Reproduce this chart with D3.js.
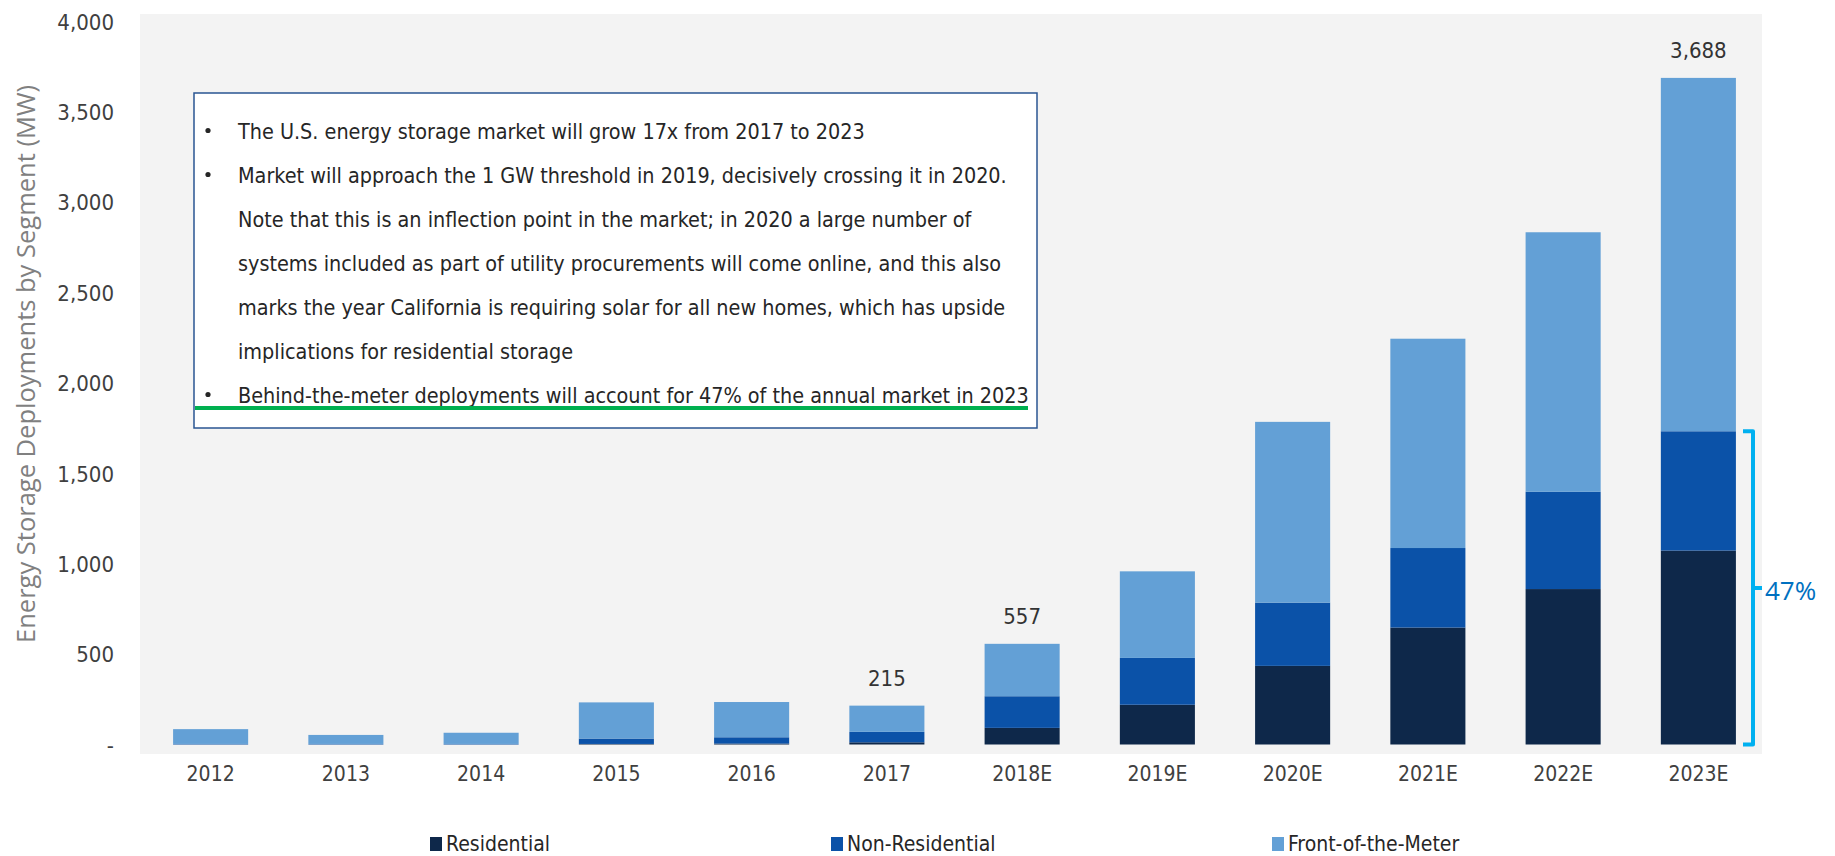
<!DOCTYPE html>
<html>
<head>
<meta charset="utf-8">
<script src="https://cdn.jsdelivr.net/npm/d3@7"></script>
<style>
  html, body { margin: 0; padding: 0; background: #fff; }
  svg { display: block; }
</style>
</head>
<body>
<div id="chart"></div>
<script>
// data (MW)
const years = ["2012", "2013", "2014", "2015", "2016", "2017", "2018E", "2019E", "2020E", "2021E", "2022E", "2023E"];
const residential = [0, 0, 0, 3, 5, 12, 92, 220, 435, 647, 860, 1073];
const nonResidential = [3, 3, 3, 30, 35, 58, 175, 259, 350, 440, 538, 660];
const frontOfMeter = [82, 50, 62, 200, 195, 145, 290, 479, 1000, 1158, 1436, 1955];
const segments = ["Residential", "Non-Residential", "Front-of-the-Meter"];
const segColors = ["#0e284a", "#0b52a8", "#63a0d6"];
const labelled = ["2017", "2018E", "2023E"];
const yTicks = [0, 500, 1000, 1500, 2000, 2500, 3000, 3500, 4000];
const notes = [
  {bullet: true, text: "The U.S. energy storage market will grow 17x from 2017 to 2023"},
  {bullet: true, text: "Market will approach the 1 GW threshold in 2019, decisively crossing it in 2020."},
  {bullet: false, text: "Note that this is an inflection point in the market; in 2020 a large number of"},
  {bullet: false, text: "systems included as part of utility procurements will come online, and this also"},
  {bullet: false, text: "marks the year California is requiring solar for all new homes, which has upside"},
  {bullet: false, text: "implications for residential storage"},
  {bullet: true, text: "Behind-the-meter deployments will account for 47% of the annual market in 2023"}
];
const btmShareLabel = "47%";

const W = 1835, H = 856;
const narrow = "'Liberation Sans Narrow', 'DejaVu Sans Condensed', 'Arial Narrow', sans-serif";

const svg = d3.select("#chart").append("svg")
  .attr("width", W).attr("height", H);

// plot background
svg.append("rect")
  .attr("x", 140).attr("y", 14).attr("width", 1622).attr("height", 740)
  .attr("fill", "#f3f3f3");

const x = d3.scaleBand().domain(years).range([143, 1766]).paddingInner(0.445).paddingOuter(0.2225);
const y = d3.scaleLinear().domain([0, 4000]).range([744.5, 21.5]);

const table = years.map((yr, i) => ({year: yr, Residential: residential[i], "Non-Residential": nonResidential[i], "Front-of-the-Meter": frontOfMeter[i]}));
const stacked = d3.stack().keys(segments)(table);

svg.append("g").selectAll("g")
  .data(stacked).join("g")
  .attr("fill", (d, i) => segColors[i])
  .selectAll("rect")
  .data(d => d).join("rect")
  .attr("x", d => x(d.data.year))
  .attr("width", x.bandwidth())
  .attr("y", d => y(d[1]))
  .attr("height", d => Math.max(0, y(d[0]) - y(d[1])));

// totals above some bars
const totals = table.map(d => ({year: d.year, total: d.Residential + d["Non-Residential"] + d["Front-of-the-Meter"]}));
const fmt = d3.format(",");
svg.append("g").selectAll("text")
  .data(totals.filter(d => labelled.includes(d.year))).join("text")
  .attr("x", d => x(d.year) + x.bandwidth() / 2)
  .attr("y", d => y(d.total) - 20)
  .attr("text-anchor", "middle")
  .attr("font-family", narrow).attr("font-size", 22).attr("fill", "#333")
  .text(d => d.year === "2023E" ? "3,688" : fmt(d.total));

// y axis
const yAxis = d3.axisLeft(y).tickValues(yTicks).tickSize(0).tickPadding(0)
  .tickFormat(d => d === 0 ? "-" : fmt(d));
const gy = svg.append("g").attr("transform", "translate(114,0)").call(yAxis);
gy.select(".domain").remove();
gy.selectAll("text").attr("font-family", narrow).attr("font-size", 22).attr("fill", "#404040").attr("dy", "0.35em");

// x axis
const xAxis = d3.axisBottom(x).tickSize(0).tickPadding(0);
const gx = svg.append("g").attr("transform", "translate(0,766)").call(xAxis);
gx.select(".domain").remove();
gx.selectAll("text").attr("font-family", narrow).attr("font-size", 21).attr("fill", "#404040").attr("dy", "0.71em");

// y title
svg.append("text")
  .attr("transform", "translate(35,364) rotate(-90)")
  .attr("text-anchor", "middle")
  .attr("font-family", "'Open Sans', sans-serif").attr("font-size", 25.5).attr("fill", "#808080")
  .text("Energy Storage Deployments by Segment (MW)");

// note box
svg.append("rect")
  .attr("x", 194).attr("y", 93).attr("width", 843).attr("height", 335)
  .attr("fill", "#fff").attr("stroke", "#2a5592").attr("stroke-width", 1.5);

const noteG = svg.append("g").attr("font-family", narrow).attr("font-size", 21.4).attr("fill", "#262626");
notes.forEach((n, i) => {
  const ly = 131.5 + i * 44;
  if (n.bullet) {
    noteG.append("circle").attr("cx", 208).attr("cy", ly - 1).attr("r", 2.6).attr("fill", "#262626");
  }
  noteG.append("text").attr("x", 238).attr("y", ly).attr("dy", "0.35em").text(n.text);
});
svg.append("line")
  .attr("x1", 195).attr("x2", 1028).attr("y1", 408).attr("y2", 408)
  .attr("stroke", "#00b050").attr("stroke-width", 4);

// bracket for behind-the-meter share of 2023E
const last = table[table.length - 1];
const btm = last.Residential + last["Non-Residential"];
const bTop = y(btm), bBot = y(0), bx = 1753, bMid = (bTop + bBot) / 2;
svg.append("path")
  .attr("d", `M${bx - 10},${bTop}H${bx}V${bBot}H${bx - 10}M${bx},${bMid}H${bx + 9}`)
  .attr("fill", "none").attr("stroke", "#00b0f0").attr("stroke-width", 4)
  .attr("stroke-linejoin", "round");
svg.append("text")
  .attr("x", 1765).attr("y", bMid + 3).attr("dy", "0.35em")
  .attr("font-family", "'Open Sans', sans-serif").attr("font-size", 26).attr("fill", "#0070c0")
  .text(btmShareLabel);

// legend
const legX = [430, 831, 1272];
const leg = svg.append("g").selectAll("g").data(segments).join("g")
  .attr("transform", (d, i) => `translate(${legX[i]},844)`);
leg.append("rect").attr("x", 0).attr("y", -7).attr("width", 12).attr("height", 14)
  .attr("fill", (d, i) => segColors[i]);
leg.append("text").attr("x", 16).attr("dy", "0.35em")
  .attr("font-family", narrow).attr("font-size", 21).attr("fill", "#262626")
  .text(d => d);
</script>
</body>
</html>
